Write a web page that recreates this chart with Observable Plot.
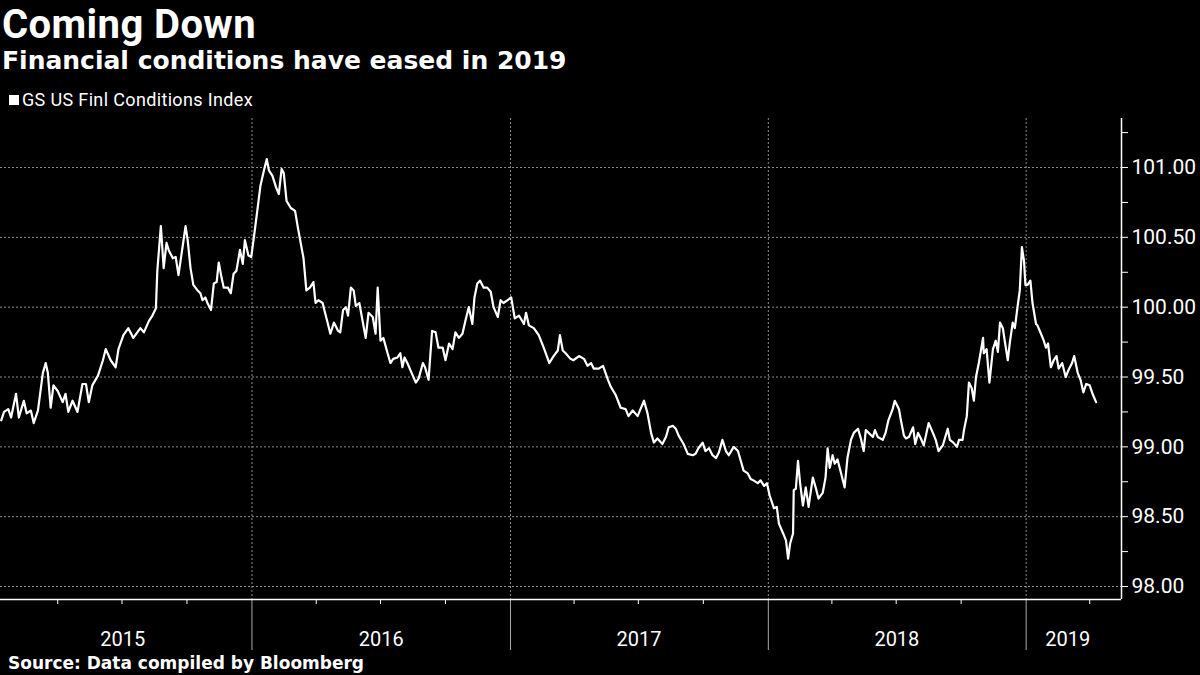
<!DOCTYPE html>
<html><head><meta charset="utf-8">
<script src="https://cdn.jsdelivr.net/npm/d3@7"></script>
<script src="https://cdn.jsdelivr.net/npm/@observablehq/plot@0.6"></script>
<style>
html,body{margin:0;padding:0;background:#000;width:1200px;height:675px;overflow:hidden;position:relative}
.t{position:absolute;color:#fff;white-space:nowrap}
#title{left:2px;top:5px;font:700 40px/40px Roboto;letter-spacing:0.4px}
#sub{left:2px;top:48px;font:700 25px/25px "DejaVu Sans"}
#leg{left:9px;top:91px;font:400 18px/18px Roboto;letter-spacing:0.35px;display:flex;align-items:center}
#leg i{display:inline-block;width:10px;height:10px;background:#fff;margin-right:3px}
#chart{position:absolute;left:0;top:110px}
#src{left:8px;top:655px;font:700 17px/17px "DejaVu Sans"}
</style></head><body>
<div id="title" class="t">Coming Down</div>
<div id="sub" class="t">Financial conditions have eased in 2019</div>
<div id="leg" class="t"><i></i>GS US Finl Conditions Index</div>
<div id="chart"></div>
<div id="src" class="t">Source: Data compiled by Bloomberg</div>
<script>
const seriesName = "GS US Finl Conditions Index";
const fci2015 = [["2015-01-11",99.19],["2015-01-15",99.25],["2015-01-21",99.27],["2015-01-25",99.21],["2015-02-01",99.38],["2015-02-05",99.21],["2015-02-12",99.33],["2015-02-16",99.24],["2015-02-22",99.26],["2015-02-26",99.17],["2015-03-04",99.26],["2015-03-11",99.53],["2015-03-15",99.60],["2015-03-18",99.53],["2015-03-22",99.28],["2015-03-26",99.44],["2015-04-01",99.40],["2015-04-08",99.32],["2015-04-12",99.38],["2015-04-16",99.25],["2015-04-22",99.33],["2015-04-29",99.25],["2015-05-06",99.45],["2015-05-11",99.45],["2015-05-15",99.32],["2015-05-20",99.44],["2015-05-28",99.51],["2015-06-04",99.62],["2015-06-08",99.70],["2015-06-15",99.62],["2015-06-22",99.57],["2015-06-26",99.70],["2015-07-03",99.80],["2015-07-10",99.85],["2015-07-17",99.78],["2015-07-27",99.85],["2015-08-01",99.82],["2015-08-08",99.90],["2015-08-13",99.94],["2015-08-18",99.99],["2015-08-20",100.26],["2015-08-25",100.58],["2015-08-29",100.28],["2015-09-02",100.46],["2015-09-05",100.41],["2015-09-11",100.35],["2015-09-15",100.36],["2015-09-19",100.23],["2015-09-25",100.44],["2015-09-29",100.58],["2015-10-02",100.48],["2015-10-06",100.28],["2015-10-10",100.16],["2015-10-16",100.12],["2015-10-20",100.10],["2015-10-23",100.05],["2015-10-27",100.07],["2015-10-30",100.03],["2015-11-04",99.98],["2015-11-08",100.17],["2015-11-12",100.18],["2015-11-15",100.32],["2015-11-19",100.21],["2015-11-22",100.14],["2015-11-28",100.14],["2015-12-02",100.10],["2015-12-06",100.24],["2015-12-10",100.26],["2015-12-15",100.41],["2015-12-19",100.31],["2015-12-22",100.48],["2015-12-27",100.37],["2015-12-31",100.36]];
const fci2016 = [["2016-01-05",100.55],["2016-01-09",100.71],["2016-01-13",100.87],["2016-01-18",100.98],["2016-01-22",101.06],["2016-01-25",100.98],["2016-01-30",100.94],["2016-02-04",100.86],["2016-02-08",100.81],["2016-02-12",100.99],["2016-02-15",100.96],["2016-02-19",100.76],["2016-02-25",100.71],["2016-03-02",100.69],["2016-03-06",100.57],["2016-03-10",100.46],["2016-03-14",100.35],["2016-03-18",100.12],["2016-03-23",100.14],["2016-03-28",100.18],["2016-03-31",100.03],["2016-04-04",100.05],["2016-04-10",100.03],["2016-04-14",99.95],["2016-04-17",99.89],["2016-04-21",99.81],["2016-04-26",99.89],["2016-05-02",99.83],["2016-05-05",99.82],["2016-05-09",99.98],["2016-05-13",100.00],["2016-05-16",99.94],["2016-05-20",100.14],["2016-05-24",100.12],["2016-05-27",100.01],["2016-06-01",100.03],["2016-06-06",99.89],["2016-06-10",99.78],["2016-06-14",99.96],["2016-06-20",99.93],["2016-06-24",99.81],["2016-06-27",100.14],["2016-07-01",99.76],["2016-07-05",99.78],["2016-07-11",99.67],["2016-07-15",99.60],["2016-07-19",99.63],["2016-07-25",99.64],["2016-07-29",99.67],["2016-08-01",99.57],["2016-08-04",99.64],["2016-08-08",99.60],["2016-08-14",99.53],["2016-08-20",99.46],["2016-08-24",99.49],["2016-08-30",99.60],["2016-09-02",99.57],["2016-09-07",99.48],["2016-09-12",99.83],["2016-09-17",99.82],["2016-09-21",99.71],["2016-09-27",99.71],["2016-10-01",99.62],["2016-10-06",99.74],["2016-10-11",99.70],["2016-10-15",99.82],["2016-10-20",99.78],["2016-10-25",99.81],["2016-10-30",99.92],["2016-11-03",100.00],["2016-11-08",99.88],["2016-11-11",100.07],["2016-11-15",100.17],["2016-11-19",100.19],["2016-11-24",100.14],["2016-11-29",100.14],["2016-12-04",100.11],["2016-12-08",100.00],["2016-12-14",99.93],["2016-12-18",100.05],["2016-12-22",100.03],["2016-12-28",100.05]];
const fci2017 = [["2017-01-02",100.07],["2017-01-07",99.92],["2017-01-13",99.94],["2017-01-20",99.88],["2017-01-23",99.96],["2017-01-27",99.87],["2017-02-03",99.85],["2017-02-10",99.80],["2017-02-17",99.71],["2017-02-25",99.60],["2017-03-03",99.65],["2017-03-09",99.69],["2017-03-12",99.80],["2017-03-16",99.69],["2017-03-20",99.67],["2017-03-27",99.63],["2017-03-31",99.62],["2017-04-08",99.65],["2017-04-15",99.63],["2017-04-20",99.58],["2017-04-25",99.60],["2017-04-29",99.56],["2017-05-06",99.56],["2017-05-12",99.58],["2017-05-19",99.48],["2017-05-23",99.43],["2017-05-30",99.37],["2017-06-06",99.28],["2017-06-13",99.27],["2017-06-17",99.22],["2017-06-23",99.26],["2017-06-30",99.22],["2017-07-04",99.27],["2017-07-09",99.33],["2017-07-14",99.24],["2017-07-19",99.10],["2017-07-23",99.03],["2017-07-28",99.06],["2017-08-04",99.02],["2017-08-09",99.07],["2017-08-13",99.14],["2017-08-19",99.15],["2017-08-23",99.13],["2017-08-27",99.08],["2017-09-03",99.02],["2017-09-09",98.95],["2017-09-16",98.94],["2017-09-20",98.95],["2017-09-24",98.99],["2017-09-30",99.03],["2017-10-04",98.97],["2017-10-09",98.99],["2017-10-14",98.94],["2017-10-19",98.92],["2017-10-23",98.96],["2017-10-28",99.05],["2017-11-02",98.97],["2017-11-06",98.94],["2017-11-13",99.00],["2017-11-19",98.97],["2017-11-23",98.90],["2017-11-27",98.83],["2017-12-03",98.81],["2017-12-07",98.77],["2017-12-11",98.76],["2017-12-17",98.74],["2017-12-21",98.76],["2017-12-26",98.72],["2017-12-30",98.74]];
const fci2018 = [["2018-01-03",98.65],["2018-01-09",98.56],["2018-01-13",98.57],["2018-01-16",98.45],["2018-01-22",98.38],["2018-01-26",98.33],["2018-01-29",98.20],["2018-02-01",98.31],["2018-02-05",98.38],["2018-02-06",98.69],["2018-02-09",98.70],["2018-02-12",98.90],["2018-02-15",98.74],["2018-02-19",98.58],["2018-02-23",98.71],["2018-02-27",98.57],["2018-03-05",98.78],["2018-03-09",98.71],["2018-03-13",98.63],["2018-03-19",98.67],["2018-03-23",98.78],["2018-03-26",98.99],["2018-03-29",98.85],["2018-04-02",98.94],["2018-04-05",98.88],["2018-04-09",98.91],["2018-04-13",98.83],["2018-04-19",98.71],["2018-04-23",98.92],["2018-04-28",99.05],["2018-05-02",99.10],["2018-05-08",99.13],["2018-05-12",99.06],["2018-05-16",98.97],["2018-05-19",99.12],["2018-05-23",99.10],["2018-05-29",99.07],["2018-06-01",99.12],["2018-06-05",99.07],["2018-06-12",99.05],["2018-06-16",99.10],["2018-06-20",99.19],["2018-06-26",99.27],["2018-06-29",99.33],["2018-07-05",99.27],["2018-07-07",99.21],["2018-07-12",99.08],["2018-07-15",99.06],["2018-07-19",99.07],["2018-07-25",99.14],["2018-07-28",99.02],["2018-08-01",99.10],["2018-08-05",99.06],["2018-08-09",99.01],["2018-08-16",99.17],["2018-08-22",99.10],["2018-08-26",99.05],["2018-08-30",98.97],["2018-09-05",99.01],["2018-09-12",99.13],["2018-09-15",99.05],["2018-09-20",99.03],["2018-09-25",99.00],["2018-09-28",99.05],["2018-10-03",99.05],["2018-10-05",99.12],["2018-10-09",99.22],["2018-10-12",99.46],["2018-10-16",99.42],["2018-10-19",99.33],["2018-10-22",99.50],["2018-10-26",99.60],["2018-11-01",99.78],["2018-11-02",99.67],["2018-11-06",99.70],["2018-11-10",99.46],["2018-11-15",99.70],["2018-11-19",99.76],["2018-11-22",99.68],["2018-11-25",99.89],["2018-11-29",99.85],["2018-12-02",99.75],["2018-12-06",99.62],["2018-12-09",99.75],["2018-12-13",99.89],["2018-12-16",99.85],["2018-12-20",100.01],["2018-12-23",100.12],["2018-12-26",100.43],["2018-12-29",100.33],["2018-12-31",100.16]];
const fci2019 = [["2019-01-03",100.16],["2019-01-07",100.19],["2019-01-10",100.03],["2019-01-15",99.88],["2019-01-17",99.87],["2019-01-22",99.81],["2019-01-26",99.76],["2019-01-29",99.71],["2019-02-01",99.74],["2019-02-05",99.57],["2019-02-09",99.62],["2019-02-13",99.65],["2019-02-16",99.56],["2019-02-21",99.60],["2019-02-26",99.50],["2019-03-02",99.55],["2019-03-07",99.60],["2019-03-10",99.65],["2019-03-15",99.53],["2019-03-19",99.48],["2019-03-23",99.39],["2019-03-27",99.45],["2019-04-01",99.44],["2019-04-05",99.38],["2019-04-10",99.32]];

const yTicks = [98, 98.5, 99, 99.5, 100, 100.5, 101];
const yMinorTicks = [98.25, 98.75, 99.25, 99.75, 100.25, 100.75, 101.25];
const yearStarts = ["2016-01-01", "2017-01-01", "2018-01-01", "2019-01-01"];
const quarterStarts = ["2015-04-01","2015-07-01","2015-10-01","2016-04-01","2016-07-01","2016-10-01","2017-04-01","2017-07-01","2017-10-01","2018-04-01","2018-07-01","2018-10-01","2019-04-01"];
const yearLabelDates = ["2015-07-02","2016-07-02","2017-07-02","2018-07-02","2019-03-01"];
const xDomain = ["2015-01-10", "2019-05-16"];
const yDomain = [97.907, 101.351];

const toDate = s => new Date(s + "T00:00:00Z");
const data = [...fci2015, ...fci2016, ...fci2017, ...fci2018, ...fci2019].map(([d, v]) => ({date: toDate(d), value: v, series: seriesName}));
const xD = xDomain.map(toDate);

const chart = Plot.plot({
  width: 1200, height: 545,
  marginTop: 8, marginBottom: 56, marginLeft: 0, marginRight: 79,
  style: {background: "#000", color: "#fff", fontFamily: "Roboto", overflow: "visible"},
  x: {type: "utc", domain: xD, label: null},
  y: {domain: yDomain, label: null},
  marks: [
    Plot.ruleY(yTicks, {stroke: "#8c8c8c", strokeDasharray: "2,2", strokeWidth: 1}),
    Plot.ruleX(yearStarts.map(toDate), {stroke: "#8c8c8c", strokeDasharray: "2,2", strokeWidth: 1}),
    Plot.axisX(quarterStarts.map(toDate), {tickSize: 5, tickFormat: () => "", stroke: "#fff", label: null}),
    Plot.axisX(yearStarts.map(toDate), {tickSize: 51, tickFormat: () => "", stroke: "#aaa", label: null}),
    Plot.axisX(yearLabelDates.map(toDate), {tickSize: 0, tickPadding: 32, tickFormat: d3.utcFormat("%Y"), fontSize: 20, fill: "#fff", label: null}),
    Plot.axisY(yMinorTicks, {anchor: "right", tickSize: 6, tickFormat: () => "", stroke: "#fff", label: null}),
    Plot.axisY(yTicks, {anchor: "right", tickSize: 6, tickPadding: 4, tickFormat: d3.format(".2f"), fontSize: 21, fill: "#fff", stroke: "#fff", label: null}),
    Plot.ruleY([yDomain[0]], {stroke: "#fff", strokeWidth: 1.5}),
    Plot.ruleX([xD[1]], {stroke: "#fff", strokeWidth: 1.5}),
    Plot.lineY(data, {x: "date", y: "value", stroke: "#fff", strokeWidth: 2.2})
  ]
});
document.getElementById("chart").appendChild(chart);
</script>
</body></html>
